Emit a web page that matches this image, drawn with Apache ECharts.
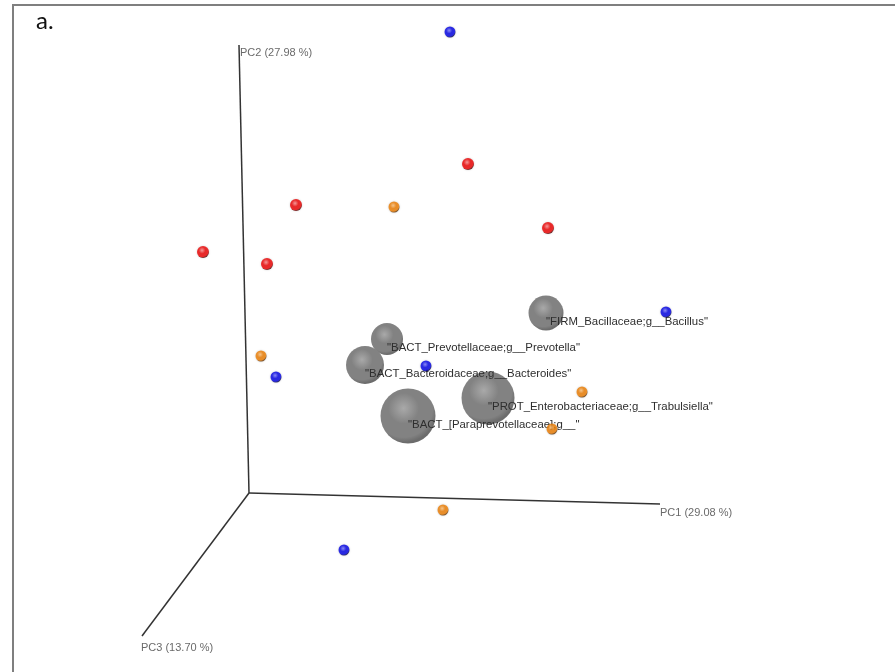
<!DOCTYPE html>
<html>
<head>
<meta charset="utf-8">
<script src="https://cdn.jsdelivr.net/npm/echarts@6/dist/echarts.min.js"></script>
<style>
  html, body { margin: 0; padding: 0; background: #fff; }
  #chart { width: 895px; height: 672px; }
</style>
</head>
<body>
<div id="chart"></div>
<script>
// Projected (screen-plane) positions of the PCoA ordination, x to the right, y downward.
const axisNames = ['PC1 (29.08 %)', 'PC2 (27.98 %)', 'PC3 (13.70 %)'];
const axisOrigin = [249, 493];
const axisEnds = [[660, 504], [239, 45], [142, 636]];

// Samples by group
const blueSamples = [[450, 32], [666, 312], [426, 366], [276, 377], [344, 550]];
const redSamples = [[468, 164], [296, 205], [548, 228], [203, 252], [267, 264]];
const orangeSamples = [[394, 207], [261, 356], [582, 392], [552, 429], [443, 510]];

// Biplot taxa (position + relative weight)
const taxaNames = [
  '"FIRM_Bacillaceae;g__Bacillus"',
  '"BACT_Prevotellaceae;g__Prevotella"',
  '"BACT_Bacteroidaceae;g__Bacteroides"',
  '"PROT_Enterobacteriaceae;g__Trabulsiella"',
  '"BACT_[Paraprevotellaceae];g__"'
];
const taxaPos = [[546, 313], [387, 339], [365, 365], [488, 398], [408, 416]];
const taxaWeight = [0.35, 0.32, 0.38, 0.53, 0.55];

function sphere(light, mid, dark) {
  return {
    type: 'radial', x: 0.42, y: 0.36, r: 0.62,
    colorStops: [
      { offset: 0, color: light },
      { offset: 0.45, color: mid },
      { offset: 0.85, color: mid },
      { offset: 1, color: dark }
    ]
  };
}

const chart = echarts.init(document.getElementById('chart'), null, { renderer: 'canvas' });

const axisSeries = axisEnds.map((end, i) => ({
  type: 'line',
  name: axisNames[i],
  data: [axisOrigin, end],
  symbol: 'none',
  lineStyle: { color: '#333', width: 1.5 },
  silent: true,
  z: 1,
  animation: false
}));

const axisLabelOffsets = [[0, 9], [1, 8], [-1, 12]];
const labelFont = '"Liberation Sans", Arial, sans-serif';

option = {
  animation: false,
  backgroundColor: '#fff',
  grid: { left: 0, right: 0, top: 0, bottom: 0 },
  xAxis: { type: 'value', min: 0, max: 895, show: false },
  yAxis: { type: 'value', min: 0, max: 672, inverse: true, show: false },
  graphic: [
    {
      type: 'polyline',
      shape: { points: [[13, 672], [13, 5], [895, 5]] },
      style: { stroke: '#7f7f7f', lineWidth: 2, fill: null },
      silent: true
    },
    {
      type: 'text',
      left: 36, top: 9,
      style: { text: 'a.', font: '24px Lato, "Open Sans", sans-serif', fill: '#111' }
    }
  ],
  series: [
    ...axisSeries,
    {
      type: 'scatter',
      name: 'axis labels',
      data: axisEnds.map((p, i) => ({
        value: p,
        label: {
          show: true, position: 'inside', align: 'left', verticalAlign: 'middle',
          offset: axisLabelOffsets[i], formatter: axisNames[i]
        }
      })),
      symbolSize: 0,
      label: { color: '#444', fontSize: 11, fontFamily: labelFont },
      silent: true,
      z: 2
    },
    {
      type: 'scatter',
      name: 'taxa',
      data: taxaPos.map((p, i) => ({
        value: p,
        name: taxaNames[i],
        label: {
          show: true, position: 'inside', align: 'left', verticalAlign: 'middle',
          offset: [0, 9], formatter: taxaNames[i]
        }
      })),
      symbolSize: (val, params) => taxaWeight[params.dataIndex] * 100,
      itemStyle: { color: sphere('#a9a9a9', '#828282', '#6c6c6c'), opacity: 1 },
      label: { color: '#2e2e2e', fontSize: 11.4, fontFamily: labelFont },
      z: 3
    },
    {
      type: 'scatter', name: 'red', data: redSamples, symbolSize: 12,
      itemStyle: { color: sphere('#ff8a8a', '#ee0000', '#5a0000'), shadowColor: 'rgba(0,0,0,0.25)', shadowBlur: 2 },
      z: 4
    },
    {
      type: 'scatter', name: 'orange', data: orangeSamples, symbolSize: 11,
      itemStyle: { color: sphere('#ffc27a', '#ee7d00', '#603000'), shadowColor: 'rgba(0,0,0,0.25)', shadowBlur: 2 },
      z: 4
    },
    {
      type: 'scatter', name: 'blue', data: blueSamples, symbolSize: 11,
      itemStyle: { color: sphere('#7a7aff', '#0000e6', '#000050'), shadowColor: 'rgba(0,0,0,0.25)', shadowBlur: 2 },
      z: 4
    }
  ]
};

chart.setOption(option);
</script>
</body>
</html>
